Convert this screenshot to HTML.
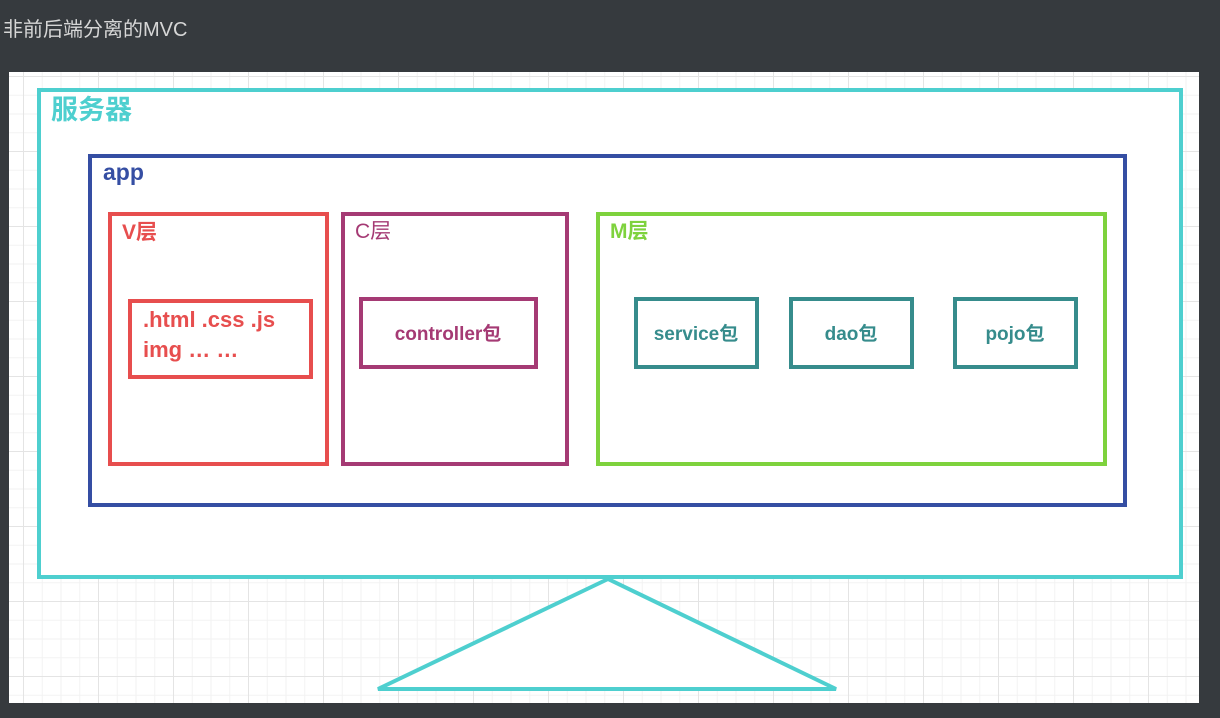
<!DOCTYPE html>
<html><head><meta charset="utf-8"><style>
body{margin:0;width:1220px;height:718px;background:#363a3e;overflow:hidden;position:relative;font-family:"Liberation Sans","Noto Sans CJK SC",sans-serif}
.t{position:absolute;left:3px;top:13px;color:#d6d6d6;font-size:20px}
.c{position:absolute;left:9px;top:72px;width:1190px;height:631px;background-color:#fff;
background-image:linear-gradient(#e4e4e4 1px,transparent 1px),linear-gradient(90deg,#e4e4e4 1px,transparent 1px),linear-gradient(#f2f2f2 1px,transparent 1px),linear-gradient(90deg,#f2f2f2 1px,transparent 1px);
background-size:75px 75px,75px 75px,18.75px 18.75px,18.75px 18.75px;background-position:-11px 4px,14px 0,-11px 4px,14px 0}
svg{position:absolute;left:0;top:0}
text{font-family:"Liberation Sans","Noto Sans CJK SC",sans-serif;font-weight:bold}
</style></head><body>
<div class="t">非前后端分离的MVC</div>
<div class="c"></div>
<svg width="1220" height="718">
<g fill="#fff" stroke-width="4">
<rect x="39" y="90" width="1142" height="487" stroke="#4ecfcf"/>
<polygon points="608,579 378,689 836,689" stroke="#4ecfcf"/>
<rect x="90" y="156" width="1035" height="349" stroke="#354ea3"/>
<rect x="110" y="214" width="217" height="250" stroke="#e74e4e"/>
<rect x="130" y="301" width="181" height="76" stroke="#e74e4e"/>
<rect x="343" y="214" width="224" height="250" stroke="#a53a74"/>
<rect x="361" y="299" width="175" height="68" stroke="#a53a74"/>
<rect x="598" y="214" width="507" height="250" stroke="#7ed23d"/>
<rect x="636" y="299" width="121" height="68" stroke="#368c8c"/>
<rect x="791" y="299" width="121" height="68" stroke="#368c8c"/>
<rect x="955" y="299" width="121" height="68" stroke="#368c8c"/>
</g>
<text x="51" y="119" font-size="27" fill="#4ecfcf">服务器</text>
<text x="103" y="180" font-size="23" fill="#354ea3">app</text>
<text x="122" y="239" font-size="21" fill="#e74e4e">V层</text>
<text x="355" y="238" font-size="21" fill="#a53a74" style="font-weight:normal">C层</text>
<text x="610" y="238" font-size="21" fill="#7ed23d">M层</text>
<text x="143" y="327" font-size="22" fill="#e74e4e">.html .css .js</text>
<text x="143" y="357" font-size="22" fill="#e74e4e">img  … …</text>
<text x="448" y="340" font-size="19" fill="#a53a74" text-anchor="middle">controller包</text>
<text x="696" y="340" font-size="19" fill="#368c8c" text-anchor="middle">service包</text>
<text x="851" y="340" font-size="19" fill="#368c8c" text-anchor="middle">dao包</text>
<text x="1015" y="340" font-size="19" fill="#368c8c" text-anchor="middle">pojo包</text>
</svg>
</body></html>
